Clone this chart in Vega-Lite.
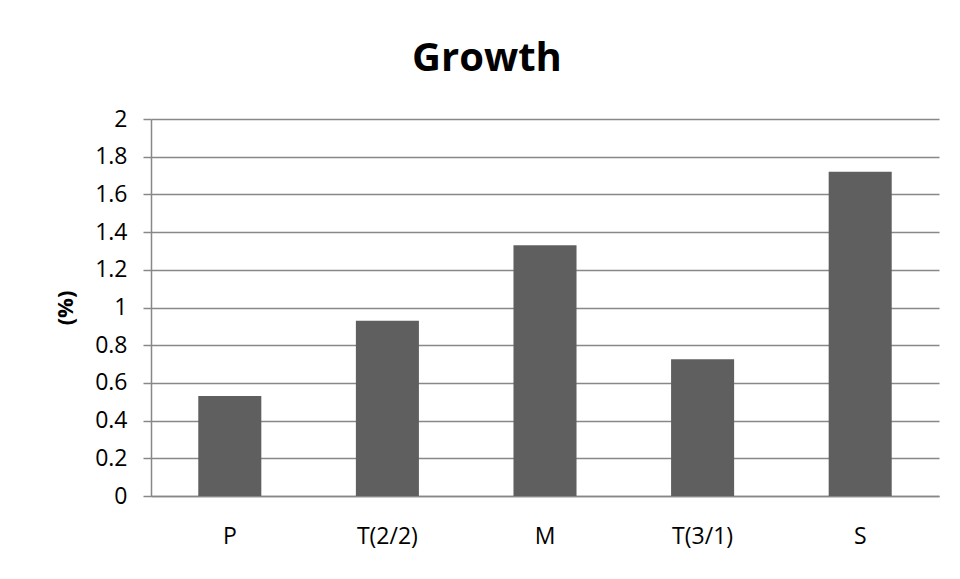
{
  "$schema": "https://vega.github.io/schema/vega-lite/v6.json",
  "width": 788,
  "height": 377,
  "autosize": {"type": "none"},
  "padding": {"left": 151, "top": 119, "right": 21, "bottom": 83},
  "background": "white",
  "title": {
    "text": "Growth",
    "font": "Open Sans",
    "fontSize": 40,
    "fontWeight": "bold",
    "color": "black",
    "anchor": "middle",
    "frame": "group",
    "dx": -58,
    "offset": 29
  },
  "data": {
    "values": [
      {"category": "P", "growth": 0.53},
      {"category": "T(2/2)", "growth": 0.93},
      {"category": "M", "growth": 1.33},
      {"category": "T(3/1)", "growth": 0.725},
      {"category": "S", "growth": 1.72}
    ]
  },
  "mark": {"type": "bar", "color": "#5f5f5f"},
  "encoding": {
    "x": {
      "field": "category",
      "type": "nominal",
      "sort": null,
      "scale": {"paddingInner": 0.6, "paddingOuter": 0.3},
      "axis": {
        "title": null,
        "labelAngle": 0,
        "ticks": false,
        "labelPadding": 29,
        "labelFont": "Open Sans",
        "labelFontSize": 23,
        "labelColor": "black",
        "domainColor": "#888888",
        "domainWidth": 1.5
      }
    },
    "y": {
      "field": "growth",
      "type": "quantitative",
      "scale": {"domain": [0, 2], "nice": false},
      "axis": {
        "title": "(%)",
        "titleFont": "Open Sans",
        "titleFontSize": 22,
        "titleFontWeight": "bold",
        "titleColor": "black",
        "titlePadding": 17,
        "values": [0, 0.2, 0.4, 0.6, 0.8, 1, 1.2, 1.4, 1.6, 1.8, 2],
        "labelExpr": "format(datum.value, '')",
        "labelFont": "Open Sans",
        "labelFontSize": 23,
        "labelColor": "black",
        "labelPadding": 16,
        "tickSize": 8,
        "tickColor": "#888888",
        "tickWidth": 1.5,
        "domainColor": "#888888",
        "domainWidth": 1.5,
        "grid": true,
        "gridColor": "#888888",
        "gridWidth": 1.5
      }
    }
  },
  "config": {"view": {"stroke": null}}
}
